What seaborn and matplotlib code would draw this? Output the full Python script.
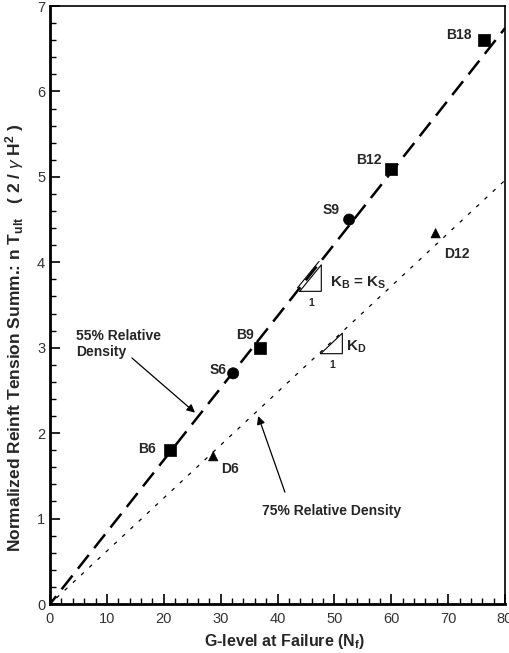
import numpy as np
import pandas as pd
import matplotlib
matplotlib.use("Agg")
import matplotlib.pyplot as plt
import seaborn as sns
from matplotlib.ticker import MultipleLocator

# ---- data ----
test_ids = ["B6", "B9", "B12", "B18", "S6", "S9", "D6", "D12"]
g_level = [21.1, 37.0, 60.0, 76.3, 32.2, 52.6, 28.7, 67.8]
tension = [1.80, 3.00, 5.09, 6.60, 2.70, 4.50, 1.73, 4.34]
series = ["B", "B", "B", "B", "S", "S", "D", "D"]

fit_x = [0, 80]
fit_55_y = [0, 6.74]   # 55% relative density (B and S)
fit_75_y = [0, 4.96]   # 75% relative density (D)

x_ticks = [0, 10, 20, 30, 40, 50, 60, 70, 80]
y_ticks = [0, 1, 2, 3, 4, 5, 6, 7]

df = pd.DataFrame({"id": test_ids, "g": g_level, "t": tension, "s": series})

sns.set_style("ticks")
plt.rcParams["font.family"] = ["Liberation Sans", "DejaVu Sans"]
plt.rcParams["mathtext.fontset"] = "custom"
plt.rcParams["mathtext.rm"] = "Liberation Sans"
plt.rcParams["mathtext.bf"] = "Liberation Sans:bold"
plt.rcParams["mathtext.it"] = "Liberation Sans:italic"

fig = plt.figure(figsize=(5.10, 6.53), dpi=100)
ax = fig.add_axes([50 / 510, 49 / 653, 455 / 510, 598 / 653])

# fit lines
sns.lineplot(x=fit_x, y=fit_55_y, ax=ax, color="black", lw=1.8,
             dashes=False, linestyle=(3, (7, 3.5)))
sns.lineplot(x=fit_x, y=fit_75_y, ax=ax, color="black", lw=0.9,
             linestyle=(2, (3, 6)))

# points
sns.scatterplot(data=df, x="g", y="t", style="s", ax=ax,
                markers={"B": "s", "S": "o", "D": "^"},
                size="s", sizes={"B": 75, "S": 65, "D": 45},
                color="black", edgecolor="black", linewidth=0.5,
                legend=False, zorder=5)

# point labels
label_pos = {
    "B6": (17.0, 1.82), "B9": (34.3, 3.15), "B12": (56.0, 5.20),
    "B18": (71.9, 6.66), "S6": (29.6, 2.74), "S9": (49.5, 4.61),
    "D6": (31.6, 1.58), "D12": (71.5, 4.10),
}
for tid in test_ids:
    x, y = label_pos[tid]
    ax.text(x, y, tid, fontsize=10, fontweight="bold", ha="center", va="center")

# slope triangles
ax.plot([43.9, 47.7, 47.7, 43.9], [3.66, 3.66, 3.97, 3.66], color="black", lw=0.8)
ax.plot([43.5, 47.3], [3.70, 4.01], color="black", lw=0.8)
ax.text(46.0, 3.52, "1", fontsize=7.5, fontweight="bold", ha="center", va="center")
ax.text(49.2, 3.76, r"K$_\mathbf{B}$ = K$_\mathbf{S}$", fontsize=11,
        fontweight="bold", ha="left", va="center")

ax.plot([47.6, 51.4, 51.4, 47.6], [2.93, 2.93, 3.17, 2.93], color="black", lw=0.8)
ax.text(49.7, 2.80, "1", fontsize=7.5, fontweight="bold", ha="center", va="center")
ax.text(52.0, 3.01, r"K$_\mathbf{D}$", fontsize=11, fontweight="bold",
        ha="left", va="center")

# annotations
ax.text(4.6, 3.22, "55% Relative\nDensity", fontsize=10, fontweight="bold",
        ha="left", va="top")
ax.annotate("", xy=(25.5, 2.24), xytext=(14.4, 2.88),
            arrowprops=dict(arrowstyle="-|>", color="black", lw=0.9,
                            mutation_scale=12, shrinkA=0, shrinkB=0))
ax.annotate("", xy=(36.6, 2.20), xytext=(41.3, 1.31),
            arrowprops=dict(arrowstyle="-|>", color="black", lw=0.9,
                            mutation_scale=12, shrinkA=0, shrinkB=0))
ax.text(37.3, 1.09, "75% Relative Density", fontsize=10, fontweight="bold",
        ha="left", va="center")

# axes
ax.set_xlim(0, 80)
ax.set_ylim(0, 7)
ax.set_xticks(x_ticks)
ax.set_yticks(y_ticks)
ax.xaxis.set_minor_locator(MultipleLocator(2))
ax.yaxis.set_minor_locator(MultipleLocator(0.2))
ax.tick_params(which="both", direction="in", top=False, right=False,
               labelsize=10.5, colors="black")
ax.tick_params(which="major", length=7, width=1.2)
ax.tick_params(axis="x", which="major", pad=6)
ax.tick_params(which="minor", length=4, width=1.0)
for sp in ax.spines.values():
    sp.set_visible(True)
    sp.set_linewidth(1.2)
    sp.set_color("black")
ax.spines["left"].set_linewidth(2.0)
ax.spines["bottom"].set_linewidth(2.0)
for lab in ax.get_xticklabels() + ax.get_yticklabels():
    lab.set_color("#333333")

ax.set_xlabel(r"G-level at Failure (N$_\mathbf{f}$)", fontsize=11.5,
              fontweight="bold")
ax.set_ylabel(r"Normalized Reinft Tension Summ.: n T$_\mathbf{ult}$   ( 2 / $\gamma$ H$^\mathbf{2}$ )",
              fontsize=12.5, fontweight="bold")
ax.xaxis.set_label_coords(0.516, -0.046)
ax.yaxis.set_label_coords(-0.052, 0.445)

fig.savefig("out.png", dpi=100, facecolor="white")
